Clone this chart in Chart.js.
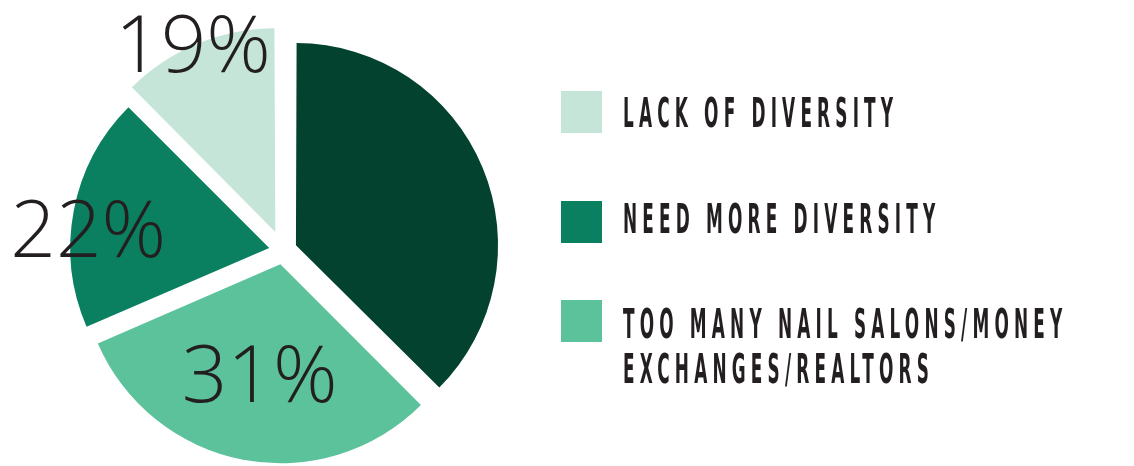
<!DOCTYPE html>
<html lang="en">
<head>
<meta charset="UTF-8">
<title>Diversity pie</title>
<script src="https://cdn.jsdelivr.net/npm/chart.js"></script>
<style>
    html, body {
        margin: 0;
        padding: 0;
        background: #ffffff;
    }
    .wrap {
        position: relative;
        width: 1134px;
        height: 466px;
        overflow: hidden;
    }
    canvas {
        position: absolute;
        left: 0;
        top: 0;
    }
    .legend-box {
        position: absolute;
        left: 561px;
        width: 41px;
        height: 42px;
    }
    .legend-text {
        position: absolute;
        left: 623px;
        font-family: "Liberation Sans Narrow", "DejaVu Sans Condensed", sans-serif;
        font-weight: bold;
        font-size: 40px;
        line-height: 45px;
        letter-spacing: 11px;
        color: #231f20;
        white-space: nowrap;
        transform: scaleX(0.47);
        transform-origin: left top;
    }
</style>
</head>
<body>
<div class="wrap" id="wrap">
    <canvas id="pie" width="1134" height="466"></canvas>
</div>

<script>
// Data (slice sizes as drawn, clockwise from 12 o'clock)
const categories = ['', 'TOO MANY NAIL SALONS/MONEY\nEXCHANGES/REALTORS', 'NEED MORE DIVERSITY', 'LACK OF DIVERSITY'];
const shares = [37.5, 31, 19, 12.5];
const pctLabels = ['', '31%', '22%', '19%'];
const legendOrder = [3, 2, 1];

// Styling
const sliceColors = ['#03422f', '#5bc29b', '#0a8060', '#c4e5d8'];
const sliceOffsets = [56, 56, 56, 80]; // chart.js moves an arc by offset/4
const labelPlace = [null, { r: 0.63, turn: 0 }, { r: 0.99, turn: -4.3 }, { r: 1.14, turn: -1 }];
const legendTops = [91, 201, 300];
const legendTextTops = [91, 197, 302];

// Percent labels drawn on top of the arcs
const percentLabels = {
    id: 'percentLabels',
    afterDatasetsDraw(chart) {
        const ctx = chart.ctx;
        const meta = chart.getDatasetMeta(0);
        const size = 80;
        ctx.save();
        ctx.font = '300 ' + size + 'px "Open Sans", "Lato", sans-serif';
        ctx.fillStyle = '#231f20';
        ctx.textAlign = 'center';
        ctx.textBaseline = 'alphabetic';
        meta.data.forEach((arc, i) => {
            if (!pctLabels[i]) return;
            const p = arc.getProps(['x', 'y', 'startAngle', 'endAngle', 'outerRadius'], true);
            const mid = (p.startAngle + p.endAngle) / 2 + labelPlace[i].turn * Math.PI / 180;
            const r = p.outerRadius * labelPlace[i].r;
            const cx = p.x + Math.cos(mid) * r;
            const cy = p.y + Math.sin(mid) * r;
            ctx.fillText(pctLabels[i], cx, cy + size * 0.357);
        });
        ctx.restore();
    }
};

new Chart(document.getElementById('pie'), {
    type: 'pie',
    data: {
        labels: categories,
        datasets: [{
            data: shares,
            backgroundColor: sliceColors,
            borderWidth: 0,
            offset: sliceOffsets
        }]
    },
    options: {
        responsive: false,
        animation: false,
        events: [],
        devicePixelRatio: 1,
        radius: 198,
        layout: {
            padding: { top: 35, left: 0, right: 568, bottom: 0 }
        },
        plugins: {
            legend: { display: false },
            tooltip: { enabled: false }
        }
    },
    plugins: [percentLabels]
});

// Legend on the right, built from the same arrays
const wrap = document.getElementById('wrap');
legendOrder.forEach((idx, row) => {
    const box = document.createElement('div');
    box.className = 'legend-box';
    box.style.top = legendTops[row] + 'px';
    box.style.background = sliceColors[idx];
    wrap.appendChild(box);

    const txt = document.createElement('div');
    txt.className = 'legend-text';
    txt.style.top = legendTextTops[row] + 'px';
    txt.innerHTML = categories[idx].split('\n').join('<br>');
    wrap.appendChild(txt);
});
</script>
</body>
</html>
